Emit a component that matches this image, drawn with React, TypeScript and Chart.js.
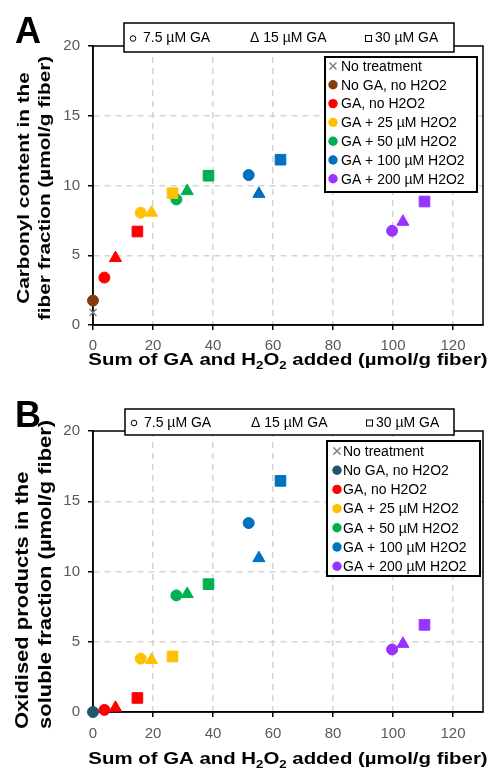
import React, { useEffect, useRef } from 'react';
import { Chart, registerables } from 'chart.js';

Chart.register(...registerables);

// ---------------- data ----------------
const treatments = [
  'No treatment',
  'No GA, no H2O2',
  'GA, no H2O2',
  'GA + 25 µM H2O2',
  'GA + 50 µM H2O2',
  'GA + 100 µM H2O2',
  'GA + 200 µM H2O2',
];
const colorsA = ['#808080', '#843c0c', '#ff0000', '#ffc000', '#00b050', '#0070c0', '#9933ff'];
const colorsB = ['#808080', '#1f566b', '#ff0000', '#ffc000', '#00b050', '#0070c0', '#9933ff'];
const gaLevels = ['7.5 µM GA', '15 µM GA', '30 µM GA'];
const levelStyles = ['circle', 'triangle', 'rect'];

// x: sum of GA and H2O2 added (µmol/g fiber), per treatment: [7.5, 15, 30 µM GA]
const sumAdded = [
  [0],
  [0],
  [3.8, 7.5, 14.8],
  [15.9, 19.5, 26.5],
  [27.8, 31.4, 38.5],
  [51.9, 55.3, 62.5],
  [99.7, 103.3, 110.5],
];
// Panel A: carbonyl content in the fiber fraction
const carbonylFiber = [
  [0.9],
  [1.75],
  [3.4, 4.8, 6.7],
  [8.05, 8.05, 9.45],
  [9.0, 9.6, 10.7],
  [10.75, 9.4, 11.85],
  [6.75, 7.4, 8.85],
];
// Panel B: oxidised products in the soluble fraction
const oxidisedSoluble = [
  [0],
  [0],
  [0.15, 0.3, 1.0],
  [3.8, 3.7, 3.95],
  [8.3, 8.4, 9.1],
  [13.45, 10.95, 16.45],
  [4.45, 4.85, 6.2],
];
const xTicks = [0, 20, 40, 60, 80, 100, 120];
const yTicks = [0, 5, 10, 15, 20];

// ---------------- styling ----------------
const FONT = '"Liberation Sans", Arial, sans-serif';
const styleRadius: Record<string, number> = { circle: 5.5, triangle: 7, rect: 7.5 };

type PanelCfg = {
  top: number;
  padTop: number;
  xAxisH: number;
  xTickPad: number;
  letter: string;
  letterBase: number;
  header: { x: number; y: number; w: number; h: number };
  legend: { x: number; y: number; w: number; h: number; row0: number; step: number; mx: number; tx: number };
  colors: string[];
  values: number[][];
  yLines: string[];
  yLineX: number[];
  yPos: number;
  yAlign: 'center' | 'left';
  yFont: number;
  xTitleBase: number;
};

const panels: PanelCfg[] = [
  {
    top: 0,
    padTop: 46,
    xAxisH: 59,
    xTickPad: 7,
    letter: 'A',
    letterBase: 43,
    header: { x: 124, y: 23, w: 330, h: 29 },
    legend: { x: 325, y: 57, w: 152, h: 135, row0: 66, step: 18.8, mx: 333, tx: 341 },
    colors: colorsA,
    values: carbonylFiber,
    yLines: ['Carbonyl content in the', 'fiber fraction (µmol/g fiber)'],
    yLineX: [24, 45],
    yPos: 188,
    yAlign: 'center',
    yFont: 17,
    xTitleBase: 365,
  },
  {
    top: 384,
    padTop: 47,
    xAxisH: 56,
    xTickPad: 8,
    letter: 'B',
    letterBase: 43,
    header: { x: 125, y: 25, w: 329, h: 26 },
    legend: { x: 327, y: 57, w: 153, h: 135, row0: 67, step: 19.2, mx: 337, tx: 343 },
    colors: colorsB,
    values: oxidisedSoluble,
    yLines: ['Oxidised products in the', 'soluble fraction (µmol/g fiber)'],
    yLineX: [23, 46],
    yPos: 345,
    yAlign: 'left',
    yFont: 18,
    xTitleBase: 380,
  },
];

function drawXTitle(ctx: CanvasRenderingContext2D, cx: number, base: number) {
  const segs: [string, boolean][] = [
    ['Sum of GA and H', false],
    ['2', true],
    ['O', false],
    ['2', true],
    [' added (µmol/g fiber)', false],
  ];
  const main = `bold 17px ${FONT}`;
  const sub = `bold 11px ${FONT}`;
  const sx = 1.2;
  let w = 0;
  for (const [t, s] of segs) {
    ctx.font = s ? sub : main;
    w += ctx.measureText(t).width;
  }
  ctx.save();
  ctx.translate(cx - (w * sx) / 2, base);
  ctx.scale(sx, 1);
  ctx.textAlign = 'left';
  ctx.textBaseline = 'alphabetic';
  ctx.fillStyle = '#000';
  let x = 0;
  for (const [t, s] of segs) {
    ctx.font = s ? sub : main;
    ctx.fillText(t, x, s ? 4 : 0);
    x += ctx.measureText(t).width;
  }
  ctx.restore();
}

function makeDecor(cfg: PanelCfg) {
  return {
    id: 'panelDecor',
    beforeDatasetsDraw(chart: any) {
      const { ctx, chartArea } = chart;
      ctx.save();
      ctx.strokeStyle = '#000';
      ctx.lineWidth = 1.5;
      ctx.strokeRect(chartArea.left, chartArea.top, chartArea.right - chartArea.left, chartArea.bottom - chartArea.top);
      ctx.restore();
    },
    afterDraw(chart: any) {
      const ctx: CanvasRenderingContext2D = chart.ctx;
      const { left, right } = chart.chartArea;
      ctx.save();
      // header box with GA levels
      const hb = cfg.header;
      ctx.fillStyle = '#fff';
      ctx.fillRect(hb.x, hb.y, hb.w, hb.h);
      ctx.strokeStyle = '#000';
      ctx.lineWidth = 1.5;
      ctx.strokeRect(hb.x, hb.y, hb.w, hb.h);
      const ty = hb.y + hb.h / 2 + 1;
      ctx.font = `14px ${FONT}`;
      ctx.fillStyle = '#000';
      ctx.textBaseline = 'middle';
      ctx.textAlign = 'left';
      ctx.lineWidth = 1;
      ctx.beginPath();
      ctx.arc(hb.x + 9, ty, 2.8, 0, Math.PI * 2);
      ctx.stroke();
      ctx.fillText(gaLevels[0], hb.x + 19, ty);
      ctx.fillText('Δ ' + gaLevels[1], hb.x + 126, ty);
      ctx.strokeRect(hb.x + 241.5, ty - 3, 6, 6);
      ctx.fillText(gaLevels[2], hb.x + 251, ty);

      // treatment legend
      const lg = cfg.legend;
      ctx.fillStyle = '#fff';
      ctx.fillRect(lg.x, lg.y, lg.w, lg.h);
      ctx.lineWidth = 2;
      ctx.strokeStyle = '#000';
      ctx.strokeRect(lg.x, lg.y, lg.w, lg.h);
      treatments.forEach((name, i) => {
        const y = lg.row0 + i * lg.step;
        if (i === 0) {
          ctx.strokeStyle = cfg.colors[0];
          ctx.lineWidth = 1.5;
          ctx.beginPath();
          ctx.moveTo(lg.mx - 3.5, y - 3.5);
          ctx.lineTo(lg.mx + 3.5, y + 3.5);
          ctx.moveTo(lg.mx + 3.5, y - 3.5);
          ctx.lineTo(lg.mx - 3.5, y + 3.5);
          ctx.stroke();
        } else {
          ctx.fillStyle = cfg.colors[i];
          ctx.beginPath();
          ctx.arc(lg.mx, y, 4.7, 0, Math.PI * 2);
          ctx.fill();
        }
        ctx.fillStyle = '#000';
        ctx.font = `14px ${FONT}`;
        ctx.fillText(name, lg.tx, y + 1);
      });

      // panel letter
      ctx.font = `bold 36px ${FONT}`;
      ctx.fillStyle = '#000';
      ctx.textBaseline = 'alphabetic';
      ctx.textAlign = 'left';
      ctx.fillText(cfg.letter, 15, cfg.letterBase);

      // y title (two lines, rotated)
      cfg.yLines.forEach((line, i) => {
        ctx.save();
        ctx.translate(cfg.yLineX[i], cfg.yPos);
        ctx.rotate(-Math.PI / 2);
        ctx.scale(1.22, 1);
        ctx.font = `bold ${cfg.yFont}px ${FONT}`;
        ctx.textAlign = cfg.yAlign;
        ctx.textBaseline = 'middle';
        ctx.fillStyle = '#000';
        ctx.fillText(line, 0, 0);
        ctx.restore();
      });

      // x title
      drawXTitle(ctx, (left + right) / 2, cfg.xTitleBase);
      ctx.restore();
    },
  };
}

function buildDatasets(cfg: PanelCfg) {
  return treatments.map((name, i) => {
    const pts = sumAdded[i].map((x, j) => ({ x, y: cfg.values[i][j] }));
    if (i === 0) {
      return {
        label: name,
        data: pts,
        pointStyle: 'crossRot',
        pointRadius: 5,
        borderColor: cfg.colors[0],
        backgroundColor: cfg.colors[0],
        borderWidth: 1.5,
        order: 1,
        clip: false,
      };
    }
    const styles = pts.map((_, j) => levelStyles[j]);
    return {
      label: name,
      data: pts,
      pointStyle: styles,
      pointRadius: styles.map((s) => styleRadius[s]),
      backgroundColor: cfg.colors[i],
      borderColor: cfg.colors[i],
      borderWidth: 1,
      order: 0,
      clip: false,
    };
  });
}

function gridColor(max: number) {
  return (c: any) => (c.tick && (c.tick.value === 0 || c.tick.value === max) ? 'rgba(0,0,0,0)' : '#d4d4d4');
}

function Panel({ cfg }: { cfg: PanelCfg }) {
  const ref = useRef<HTMLCanvasElement>(null);
  useEffect(() => {
    if (!ref.current) return;
    const chart = new Chart(ref.current, {
      type: 'scatter',
      data: { datasets: buildDatasets(cfg) as any },
      options: {
        responsive: false,
        animation: false,
        devicePixelRatio: 1,
        layout: { padding: { left: 0, right: 11, top: cfg.padTop, bottom: 0 } },
        plugins: {
          legend: { display: false },
          tooltip: { enabled: false },
        },
        scales: {
          x: {
            type: 'linear',
            min: 0,
            max: 130,
            afterBuildTicks: (s: any) => {
              s.ticks = xTicks.map((v) => ({ value: v }));
            },
            afterFit: (s: any) => {
              s.height = cfg.xAxisH;
            },
            ticks: {
              autoSkip: false,
              maxRotation: 0,
              padding: cfg.xTickPad,
              color: '#595959',
              font: { family: FONT, size: 15 },
            },
            grid: {
              color: gridColor(130),
              lineWidth: 1.5,
              drawTicks: true,
              tickLength: 5,
              tickColor: '#000',
              tickWidth: 1.5,
            },
            border: { display: true, color: '#000', width: 1.5, dash: [6, 5] },
          },
          y: {
            type: 'linear',
            min: 0,
            max: 20,
            afterBuildTicks: (s: any) => {
              s.ticks = yTicks.map((v) => ({ value: v }));
            },
            afterFit: (s: any) => {
              s.width = 93;
            },
            ticks: {
              autoSkip: false,
              padding: 8,
              color: '#595959',
              font: { family: FONT, size: 15 },
            },
            grid: {
              color: gridColor(20),
              lineWidth: 1.5,
              drawTicks: true,
              tickLength: 5,
              tickColor: '#000',
              tickWidth: 1.5,
            },
            border: { display: true, color: '#000', width: 1.5, dash: [6, 5] },
          },
        },
      } as any,
      plugins: [makeDecor(cfg)],
    });
    return () => chart.destroy();
  }, [cfg]);
  return (
    <canvas
      ref={ref}
      width={494}
      height={384}
      style={{ position: 'absolute', left: 0, top: cfg.top, width: 494, height: 384, display: 'block' }}
    />
  );
}

export default function App() {
  return (
    <div style={{ position: 'absolute', left: 0, top: 0, width: 494, height: 768, background: '#fff' }}>
      {panels.map((p) => (
        <Panel key={p.letter} cfg={p} />
      ))}
    </div>
  );
}
